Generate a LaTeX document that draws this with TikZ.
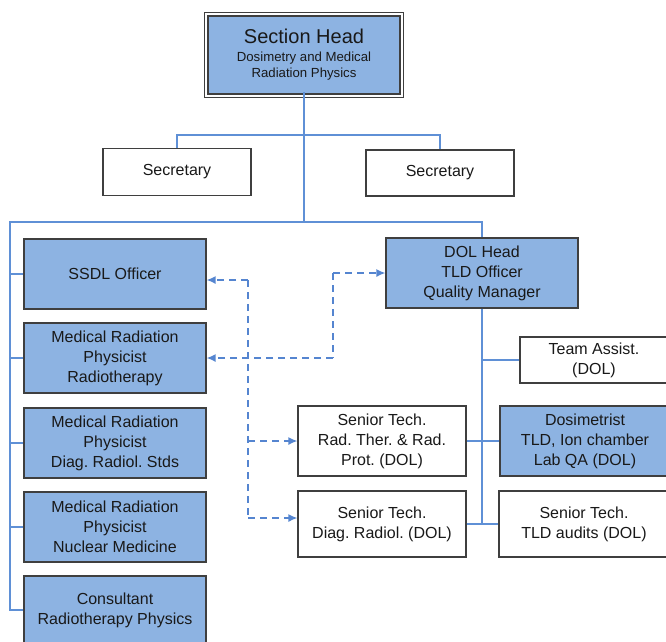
\documentclass[tikz,border=0pt]{standalone}
\usepackage{fontspec}
\setmainfont{Liberation Sans}
\usetikzlibrary{arrows.meta}
\frenchspacing
\definecolor{boxfill}{HTML}{8DB3E2}
\definecolor{boxline}{HTML}{3F3F3F}
\definecolor{conncol}{HTML}{5F90D6}
\definecolor{dashcol}{HTML}{5585D0}
\tikzset{
  box/.style={draw=boxline, line width=1.2pt, inner sep=0pt, align=center,
    font=\fontsize{16}{20}\selectfont\frenchspacing, text=black!90},
  bluebox/.style={box, fill=boxfill},
  whitebox/.style={box, fill=white},
  conn/.style={draw=conncol, line width=1.5pt},
  dconn/.style={draw=dashcol, line width=1.4pt, dash pattern=on 7pt off 5pt},
  darr/.style={dconn, -{Latex[length=9pt,width=8pt]}},
}
\begin{document}
\begin{tikzpicture}[x=1pt,y=-1pt]
\useasboundingbox (0,0) rectangle (666,641);
% nodes
\node[bluebox, font=\fontsize{13.2}{16}\selectfont, minimum width=192pt, minimum height=78pt] (head) at (304,55)
  {{\fontsize{20}{22}\selectfont Section Head}\\[2pt]
   Dosimetry and Medical\\
   Radiation Physics};
\draw[boxline, line width=1.2pt] ([shift={(-3,-3)}]head.north west) rectangle ([shift={(3,3)}]head.south east);
\node[whitebox, minimum width=148pt, minimum height=47pt] (sec1) at (177,172) {Secretary};
\node[whitebox, minimum width=148pt, minimum height=46pt] (sec2) at (440,173) {Secretary};
\node[bluebox, minimum width=182pt, minimum height=70pt] (ssdl) at (115,274) {SSDL Officer};
\node[bluebox, minimum width=182pt, minimum height=70pt] (mrt) at (115,358) {Medical Radiation\\Physicist\\Radiotherapy};
\node[bluebox, minimum width=182pt, minimum height=70pt] (mrd) at (115,443) {Medical Radiation\\Physicist\\Diag. Radiol. Stds};
\node[bluebox, minimum width=182pt, minimum height=70pt] (mrn) at (115,527) {Medical Radiation\\Physicist\\Nuclear Medicine};
\node[bluebox, minimum width=182pt, minimum height=68pt] (cons) at (115,610) {Consultant\\Radiotherapy Physics};
\node[bluebox, minimum width=192pt, minimum height=70pt] (dol) at (482,273) {DOL Head\\TLD Officer\\Quality Manager};
\node[whitebox, minimum width=148pt, minimum height=46pt] (ta) at (594,360) {Team Assist.\\(DOL)};
\node[whitebox, minimum width=168pt, minimum height=70pt] (str) at (382,441) {Senior Tech.\\Rad. Ther. \& Rad.\\Prot. (DOL)};
\node[bluebox, minimum width=170pt, minimum height=70pt] (dos) at (585,441) {Dosimetrist\\TLD, Ion chamber\\Lab QA (DOL)};
\node[whitebox, minimum width=168pt, minimum height=66pt] (std) at (382,524) {Senior Tech.\\Diag. Radiol. (DOL)};
\node[whitebox, minimum width=170pt, minimum height=66pt] (stt) at (584,524) {Senior Tech.\\TLD audits (DOL)};
% bus coordinates
\coordinate (bus) at (304,222);
\coordinate (sbus) at (304,135);
\coordinate (lt) at (10,222);
% solid connectors
\draw[conn] ([yshift=3pt]head.south) -- (bus);
\draw[conn] (sec1.north) -- (sec1.north |- sbus) -- (sec2.north |- sbus) -- (sec2.north);
\draw[conn] (dol.north) -- (dol.north |- bus) -- (lt) -- (lt |- cons.west) -- (cons.west);
\draw[conn] (lt |- ssdl.west) -- (ssdl.west);
\draw[conn] (lt |- mrt.west) -- (mrt.west);
\draw[conn] (lt |- mrd.west) -- (mrd.west);
\draw[conn] (lt |- mrn.west) -- (mrn.west);
\draw[conn] (dol.south) -- (dol.south |- std.east);
\draw[conn] (ta.west) -- (ta.west -| dol.south);
\draw[conn] (str.east) -- (dos.west);
\draw[conn] (std.east) -- (stt.west);
% dashed connectors
\coordinate (d1) at (248,280);
\coordinate (d2) at (248,518);
\coordinate (e1) at (333,273);
\draw[dconn] (d1) -- (d2);
\draw[darr] (d1) -- (d1 -| ssdl.east);
\draw[darr] (d1 |- str.west) -- (str.west);
\draw[darr] (d2) -- (d2 -| std.west);
\draw[dconn] (e1) -- (e1 |- mrt.east);
\draw[darr] (e1) -- (e1 -| dol.west);
\draw[darr] (e1 |- mrt.east) -- (mrt.east);
\end{tikzpicture}
\end{document}
